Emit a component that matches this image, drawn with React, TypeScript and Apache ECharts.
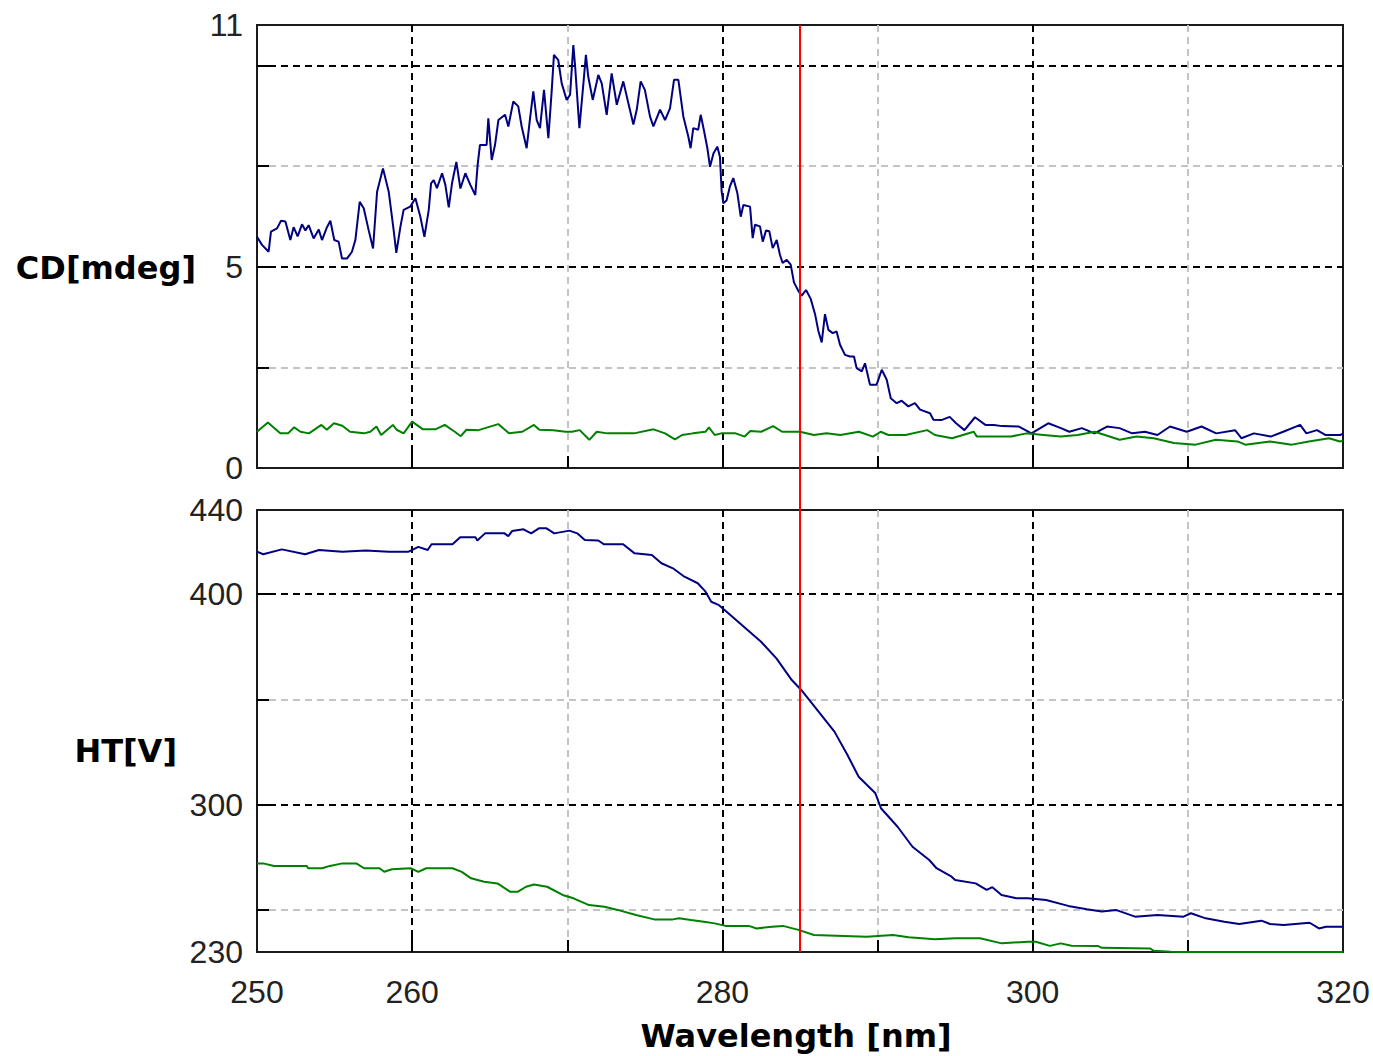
import React, { useEffect, useRef } from "react";
import * as echarts from "echarts";

// ---- axes ----
const xMin = 250;
const xMax = 320;
const xMajorTicks = [260, 280, 300];
const xMinorTicks = [270, 290, 310];
const xLabels = [250, 260, 280, 300, 320];

const cdMin = 0;
const cdMax = 11;
const cdMajorTicks = [5, 10];
const cdMinorTicks = [2.5, 7.5];
const cdLabels = [0, 5, 11];

const htMin = 230;
const htMax = 440;
const htMajorTicks = [300, 400];
const htMinorTicks = [250, 350];
const htLabels = [230, 300, 400, 440];

const cursorWavelength = 285;

// ---- CD [mdeg] : sample (blue) ----
const cdSample: [number, number][] = [
  [250.0, 5.74], [250.32, 5.54], [250.75, 5.37], [250.9, 5.87], [251.29, 5.95], [251.55, 6.14],
  [251.83, 6.12], [252.15, 5.66], [252.36, 5.98], [252.62, 5.75], [252.9, 6.05], [253.12, 5.9],
  [253.33, 6.03], [253.65, 5.7], [253.98, 5.92], [254.19, 5.66], [254.51, 5.98], [254.73, 6.14],
  [254.98, 5.66], [255.26, 5.62], [255.48, 5.2], [255.8, 5.2], [256.12, 5.37], [256.34, 5.66],
  [256.62, 6.61], [256.88, 6.45], [257.2, 5.9], [257.48, 5.45], [257.74, 6.86], [258.12, 7.44],
  [258.49, 6.86], [258.81, 5.9], [258.98, 5.34], [259.24, 5.98], [259.45, 6.41], [259.88, 6.49],
  [260.21, 6.7], [260.53, 6.24], [260.79, 5.74], [261.07, 6.41], [261.22, 7.07], [261.39, 7.15],
  [261.6, 6.95], [261.93, 7.32], [262.14, 7.03], [262.36, 6.47], [262.57, 7.07], [262.85, 7.6],
  [263.11, 6.94], [263.43, 7.32], [263.75, 7.03], [264.07, 6.78], [264.22, 7.52], [264.37, 8.02],
  [264.8, 8.02], [264.91, 8.68], [265.13, 7.65], [265.34, 8.02], [265.56, 8.64], [265.99, 8.77],
  [266.2, 8.48], [266.52, 9.1], [266.84, 8.98], [267.06, 8.48], [267.38, 7.94], [267.6, 8.68],
  [267.81, 9.35], [268.03, 8.64], [268.24, 8.44], [268.5, 9.39], [268.78, 8.19], [269.0, 9.39],
  [269.14, 10.26], [269.42, 10.13], [269.64, 9.55], [269.96, 9.14], [270.18, 9.27], [270.39, 10.5],
  [270.5, 10.0], [270.78, 8.44], [271.04, 9.55], [271.2, 10.26], [271.35, 9.72], [271.64, 9.14],
  [272.0, 9.76], [272.22, 9.55], [272.54, 8.77], [272.86, 9.8], [273.19, 9.02], [273.61, 9.6],
  [273.93, 9.07], [274.26, 8.53], [274.48, 8.9], [274.73, 9.6], [275.0, 9.39], [275.33, 8.73],
  [275.55, 8.48], [275.98, 8.9], [276.3, 8.64], [276.62, 8.93], [276.88, 9.64], [277.16, 9.64],
  [277.48, 8.73], [277.8, 8.23], [277.95, 7.94], [278.12, 8.44], [278.44, 8.4], [278.6, 8.77],
  [278.8, 8.4], [279.03, 7.94], [279.2, 7.48], [279.42, 7.81], [279.67, 7.98], [279.84, 7.73],
  [279.95, 6.86], [280.06, 6.57], [280.27, 6.65], [280.49, 7.0], [280.7, 7.2], [280.96, 6.83],
  [281.18, 6.24], [281.35, 6.53], [281.78, 6.49], [281.95, 5.71], [282.1, 6.04], [282.42, 6.0],
  [282.6, 5.62], [282.81, 5.9], [283.02, 5.88], [283.24, 5.46], [283.5, 5.66], [283.71, 5.29],
  [283.88, 5.09], [284.14, 5.17], [284.4, 5.05], [284.61, 4.61], [284.89, 4.4], [285.11, 4.28],
  [285.39, 4.42], [285.69, 4.2], [285.97, 3.82], [286.18, 3.41], [286.4, 3.12], [286.61, 3.82],
  [286.83, 3.43], [287.11, 3.35], [287.36, 3.39], [287.58, 3.06], [287.9, 2.81], [288.22, 2.77],
  [288.48, 2.77], [288.65, 2.48], [288.98, 2.4], [289.19, 2.6], [289.51, 2.07], [289.94, 2.07],
  [290.27, 2.44], [290.59, 2.19], [290.85, 1.73], [291.23, 1.61], [291.55, 1.67], [291.98, 1.53],
  [292.41, 1.61], [292.74, 1.45], [293.38, 1.36], [293.6, 1.2], [294.11, 1.19], [294.65, 1.27],
  [295.06, 1.11], [295.6, 0.94], [296.28, 1.26], [296.95, 1.07], [297.49, 1.07], [298.03, 1.04],
  [299.11, 1.03], [299.92, 0.86], [301.0, 1.11], [301.82, 0.99], [302.36, 0.9], [303.17, 0.99],
  [303.98, 0.86], [304.79, 1.03], [305.6, 0.99], [306.41, 0.86], [307.23, 0.9], [308.04, 0.82],
  [308.85, 1.03], [309.93, 0.9], [310.88, 1.03], [311.83, 0.86], [313.04, 0.94], [313.45, 0.74],
  [314.26, 0.86], [315.34, 0.78], [316.15, 0.9], [317.24, 1.07], [317.64, 0.86], [318.32, 0.94],
  [318.86, 0.82], [319.81, 0.82], [320.0, 0.85],
];

// ---- CD [mdeg] : baseline (green) ----
const cdBaseline: [number, number][] = [
  [250.0, 0.9], [250.7, 1.13], [251.5, 0.86], [252.0, 0.86], [252.4, 1.01], [252.8, 0.9],
  [253.35, 0.86], [254.15, 1.07], [254.5, 0.95], [254.96, 1.11], [255.5, 1.05], [256.0, 0.9],
  [256.9, 0.86], [257.3, 0.9], [257.7, 1.03], [258.0, 0.82], [258.76, 1.07], [259.0, 0.95],
  [259.45, 0.86], [260.0, 1.15], [260.7, 0.96], [261.5, 0.96], [262.1, 1.07], [262.75, 0.9],
  [263.13, 0.79], [263.5, 0.95], [264.28, 0.94], [265.55, 1.09], [266.24, 0.86], [267.1, 0.9],
  [267.85, 1.07], [268.2, 0.95], [269.1, 0.94], [269.9, 0.9], [270.3, 0.9], [270.8, 0.94],
  [271.42, 0.7], [271.9, 0.9], [272.57, 0.86], [273.5, 0.86], [274.3, 0.86], [275.56, 0.96],
  [276.3, 0.86], [276.94, 0.71], [277.4, 0.82], [278.1, 0.86], [278.9, 0.9], [279.13, 1.01],
  [279.5, 0.82], [279.93, 0.86], [280.85, 0.86], [281.43, 0.78], [281.8, 0.92], [282.5, 0.9],
  [283.27, 1.04], [283.85, 0.9], [285.0, 0.9], [285.9, 0.82], [286.7, 0.86], [287.6, 0.82],
  [288.8, 0.9], [289.7, 0.78], [290.2, 0.9], [290.7, 0.82], [291.8, 0.82], [293.2, 0.94],
  [293.7, 0.82], [294.8, 0.74], [296.2, 0.9], [296.4, 0.78], [298.6, 0.78], [299.6, 0.86],
  [300.7, 0.82], [301.8, 0.78], [302.9, 0.82], [304.0, 0.9], [305.6, 0.7], [306.7, 0.78],
  [307.8, 0.74], [309.1, 0.62], [310.5, 0.58], [311.8, 0.7], [313.2, 0.66], [313.7, 0.58],
  [315.3, 0.66], [316.7, 0.58], [317.8, 0.66], [319.1, 0.74], [319.8, 0.66], [320.0, 0.68],
];

// ---- HT [V] : sample (blue) ----
const htSample: [number, number][] = [
  [250.0, 420.2], [250.4, 419.0], [251.6, 421.3], [253.1, 419.0], [254.0, 421.0], [255.5, 420.2],
  [257.0, 420.7], [258.5, 420.2], [259.77, 420.2], [260.4, 422.5], [261.0, 421.0], [261.25, 423.7],
  [262.6, 423.7], [263.1, 427.0], [264.09, 427.0], [264.2, 425.5], [264.7, 428.9], [265.95, 428.9],
  [266.2, 427.6], [266.44, 430.0], [267.18, 430.8], [267.67, 428.9], [268.17, 431.3], [268.66, 431.3],
  [269.16, 428.9], [270.14, 430.2], [270.64, 428.9], [271.13, 425.7], [272.0, 425.5], [272.37, 423.7],
  [273.6, 423.7], [274.34, 419.4], [275.45, 418.6], [276.07, 414.7], [276.81, 412.3], [277.55, 408.3],
  [278.41, 405.2], [278.91, 401.2], [279.28, 396.4], [279.78, 394.8], [280.27, 391.7], [281.75, 382.2],
  [282.49, 377.4], [283.48, 369.5], [284.47, 359.2], [285.08, 354.5], [286.03, 345.8], [287.22, 334.7],
  [288.06, 323.6], [288.78, 313.3], [289.86, 305.4], [290.22, 298.3], [291.29, 289.5], [292.25, 280.0],
  [293.33, 273.7], [293.8, 269.8], [294.77, 265.8], [295.0, 264.2], [296.32, 262.6], [297.03, 259.5],
  [297.4, 260.8], [297.99, 257.1], [298.95, 255.5], [299.7, 255.5], [300.86, 254.7], [302.29, 251.9],
  [303.49, 250.3], [304.45, 249.2], [305.4, 249.9], [306.6, 246.8], [308.04, 247.6], [309.72, 246.8],
  [310.2, 248.4], [311.15, 246.0], [312.35, 244.4], [313.31, 243.3], [314.74, 244.9], [315.3, 243.3],
  [316.18, 242.8], [317.85, 243.9], [318.45, 241.2], [318.9, 242.0], [320.0, 242.0],
];

// ---- HT [V] : baseline (green) ----
const htBaseline: [number, number][] = [
  [250.0, 272.1], [250.4, 272.1], [251.1, 270.9], [253.2, 270.9], [253.3, 269.8], [254.2, 269.8],
  [254.7, 270.9], [255.5, 272.1], [256.4, 272.1], [256.9, 269.8], [257.9, 269.8], [258.2, 268.1],
  [258.7, 269.3], [259.9, 269.8], [260.4, 268.1], [260.9, 269.8], [262.6, 269.8], [263.2, 268.1],
  [263.8, 265.0], [264.64, 263.4], [265.5, 262.6], [266.33, 258.6], [266.8, 258.6], [267.34, 261.0],
  [267.85, 262.1], [268.7, 261.0], [269.7, 257.1], [270.4, 255.5], [271.4, 252.3], [272.4, 251.5],
  [273.24, 250.0], [274.43, 247.6], [275.6, 245.5], [276.8, 245.5], [277.2, 246.0], [277.97, 245.2],
  [278.8, 244.4], [279.5, 243.6], [280.2, 242.4], [281.7, 242.4], [282.2, 241.2], [283.2, 242.0],
  [283.9, 242.4], [284.9, 240.5], [285.9, 238.1], [289.3, 237.3], [291.0, 238.1], [292.0, 237.0],
  [293.7, 236.0], [295.0, 236.5], [296.6, 236.5], [298.0, 234.1], [299.7, 234.9], [300.2, 234.9],
  [301.1, 232.9], [301.8, 234.1], [302.5, 233.0], [304.2, 232.9], [304.45, 232.0], [307.56, 231.7],
  [307.8, 230.6], [308.9, 230.1], [309.5, 230.0], [320.0, 230.0],
];

const BLUE = "#000080";
const GREEN = "#008000";
const MAJOR = "#000000";
const MINOR = "#c4c4c4";
const NUM_FONT = '"Liberation Sans", Arial, sans-serif';
const NAME_FONT = 'bold 32px "DejaVu Sans", Verdana, sans-serif';

function xAxisFor(gridIndex: number, ticks: number[], len: number, color: string, labels?: number[]) {
  return {
    type: "value",
    gridIndex,
    min: xMin,
    max: xMax,
    position: "bottom",
    axisLine: { show: false },
    axisTick: { show: true, inside: true, length: len, customValues: ticks, lineStyle: { color: "#000", width: 2 } },
    axisLabel: labels
      ? { show: true, customValues: labels, margin: 24, fontSize: 32, fontFamily: NUM_FONT, color: "#222" }
      : { show: false },
    splitLine: { show: true, lineStyle: { color, width: 2, type: [7, 5] } },
  };
}

function yAxisFor(gridIndex: number, min: number, max: number, ticks: number[], len: number, color: string, labels?: number[]) {
  return {
    type: "value",
    gridIndex,
    min,
    max,
    position: "left",
    axisLine: { show: false },
    axisTick: { show: true, inside: true, length: len, customValues: ticks, lineStyle: { color: "#000", width: 2 } },
    axisLabel: labels
      ? { show: true, customValues: labels, margin: 14, fontSize: 32, fontFamily: NUM_FONT, color: "#222" }
      : { show: false },
    splitLine: { show: true, lineStyle: { color, width: 2, type: [7, 5] } },
  };
}

function lineSeries(name: string, data: [number, number][], axis: number, color: string) {
  return {
    name,
    type: "line",
    xAxisIndex: axis,
    yAxisIndex: axis,
    data,
    symbol: "none",
    showSymbol: false,
    silent: true,
    z: 3,
    lineStyle: { color, width: 2 },
  };
}

export default function App() {
  const ref = useRef<HTMLDivElement>(null);

  useEffect(() => {
    if (!ref.current) return;
    const chart = echarts.init(ref.current, undefined, { renderer: "svg" });
    const option: any = {
      animation: false,
      backgroundColor: "#ffffff",
      grid: [
        { left: 257, top: 25, width: 1086, height: 443, show: true, borderColor: "#1a1a1a", borderWidth: 2, backgroundColor: "transparent" },
        { left: 257, top: 510, width: 1086, height: 442, show: true, borderColor: "#1a1a1a", borderWidth: 2, backgroundColor: "transparent" },
        { left: 257, top: 25, width: 1086, height: 927, show: false },
      ],
      xAxis: [
        xAxisFor(0, xMajorTicks, 18, MAJOR),
        xAxisFor(0, xMinorTicks, 12, MINOR),
        xAxisFor(1, xMajorTicks, 18, MAJOR, xLabels),
        xAxisFor(1, xMinorTicks, 12, MINOR),
        { type: "value", gridIndex: 2, min: xMin, max: xMax, show: false },
      ],
      yAxis: [
        yAxisFor(0, cdMin, cdMax, cdMajorTicks, 18, MAJOR, cdLabels),
        yAxisFor(0, cdMin, cdMax, cdMinorTicks, 12, MINOR),
        yAxisFor(1, htMin, htMax, htMajorTicks, 18, MAJOR, htLabels),
        yAxisFor(1, htMin, htMax, htMinorTicks, 12, MINOR),
        { type: "value", gridIndex: 2, min: 0, max: 1, show: false },
      ],
      series: [
        lineSeries("CD sample", cdSample, 0, BLUE),
        lineSeries("CD baseline", cdBaseline, 0, GREEN),
        lineSeries("HT sample", htSample, 2, BLUE),
        lineSeries("HT baseline", htBaseline, 2, GREEN),
        {
          name: "cursor",
          type: "line",
          xAxisIndex: 4,
          yAxisIndex: 4,
          data: [[cursorWavelength, 0.5]],
          symbol: "none",
          showSymbol: false,
          silent: true,
          lineStyle: { opacity: 0 },
          markLine: {
            silent: true,
            symbol: ["none", "none"],
            label: { show: false },
            lineStyle: { color: "#ff0000", width: 2, type: "solid" },
            data: [{ xAxis: cursorWavelength }],
          },
          z: 5,
        },
      ],
      graphic: [
        {
          type: "text",
          x: 196,
          y: 268,
          style: { text: "CD[mdeg]", font: NAME_FONT, fill: "#000", align: "right", verticalAlign: "middle", textAlign: "right", textVerticalAlign: "middle" },
        },
        {
          type: "text",
          x: 177,
          y: 751,
          style: { text: "HT[V]", font: NAME_FONT, fill: "#000", align: "right", verticalAlign: "middle", textAlign: "right", textVerticalAlign: "middle" },
        },
        {
          type: "text",
          x: 796,
          y: 1036,
          style: { text: "Wavelength [nm]", font: NAME_FONT, fill: "#000", align: "center", verticalAlign: "middle", textAlign: "center", textVerticalAlign: "middle" },
        },
      ],
    };
    chart.setOption(option);
    return () => chart.dispose();
  }, []);

  return (
    <div
      ref={ref}
      style={{ position: "absolute", left: 0, top: 0, width: 1373, height: 1056, background: "#fff" }}
    />
  );
}
